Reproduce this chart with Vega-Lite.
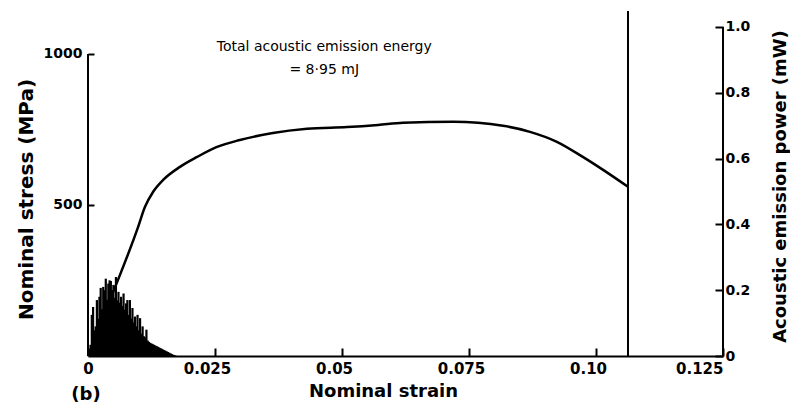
{
  "$schema": "https://vega.github.io/schema/vega-lite/v6.json",
  "width": 635,
  "height": 345,
  "autosize": "none",
  "padding": {"left": 88, "top": 11, "right": 67, "bottom": 56},
  "background": "white",
  "config": {
    "view": {"stroke": null},
    "font": "DejaVu Sans",
    "axis": {"grid": false, "labelColor": "black", "titleColor": "black", "tickColor": "black", "domainColor": "black", "tickWidth": 2, "domainWidth": 2, "labelFontWeight": "bold", "titleFontWeight": "bold", "titleFontSize": 19, "labelFont": "DejaVu Sans", "titleFont": "DejaVu Sans"}
  },
  "datasets": {
    "stress": [
      {"strain": 0, "stress": 0},
      {"strain": 0.0049, "stress": 209},
      {"strain": 0.0098, "stress": 424},
      {"strain": 0.0112, "stress": 493},
      {"strain": 0.0128, "stress": 543},
      {"strain": 0.0148, "stress": 583},
      {"strain": 0.0181, "stress": 626},
      {"strain": 0.0215, "stress": 659},
      {"strain": 0.0254, "stress": 692},
      {"strain": 0.0299, "stress": 715},
      {"strain": 0.0364, "stress": 738},
      {"strain": 0.0431, "stress": 752},
      {"strain": 0.051, "stress": 758},
      {"strain": 0.0571, "stress": 765},
      {"strain": 0.062, "stress": 772},
      {"strain": 0.0719, "stress": 775},
      {"strain": 0.0817, "stress": 762},
      {"strain": 0.087, "stress": 742},
      {"strain": 0.0923, "stress": 709},
      {"strain": 0.0974, "stress": 659},
      {"strain": 0.1014, "stress": 616},
      {"strain": 0.1063, "stress": 560}
    ],
    "ae": [
      {"strain": 0.00025, "power": 0.017},
      {"strain": 0.0005, "power": 0.034},
      {"strain": 0.00075, "power": 0.125},
      {"strain": 0.001, "power": 0.149},
      {"strain": 0.00125, "power": 0.078},
      {"strain": 0.0015, "power": 0.09},
      {"strain": 0.00175, "power": 0.17},
      {"strain": 0.002, "power": 0.113},
      {"strain": 0.00225, "power": 0.18},
      {"strain": 0.0025, "power": 0.207},
      {"strain": 0.00275, "power": 0.142},
      {"strain": 0.003, "power": 0.21},
      {"strain": 0.00325, "power": 0.2},
      {"strain": 0.0035, "power": 0.235},
      {"strain": 0.00375, "power": 0.171},
      {"strain": 0.004, "power": 0.22},
      {"strain": 0.00425, "power": 0.23},
      {"strain": 0.0045, "power": 0.228},
      {"strain": 0.00475, "power": 0.2},
      {"strain": 0.005, "power": 0.216},
      {"strain": 0.00525, "power": 0.177},
      {"strain": 0.0055, "power": 0.24},
      {"strain": 0.00575, "power": 0.169},
      {"strain": 0.006, "power": 0.195},
      {"strain": 0.00625, "power": 0.162},
      {"strain": 0.0065, "power": 0.18},
      {"strain": 0.00675, "power": 0.152},
      {"strain": 0.007, "power": 0.19},
      {"strain": 0.00725, "power": 0.141},
      {"strain": 0.0075, "power": 0.16},
      {"strain": 0.00775, "power": 0.17},
      {"strain": 0.008, "power": 0.125},
      {"strain": 0.00825, "power": 0.17},
      {"strain": 0.0085, "power": 0.114},
      {"strain": 0.00875, "power": 0.146},
      {"strain": 0.009, "power": 0.102},
      {"strain": 0.00925, "power": 0.12},
      {"strain": 0.0095, "power": 0.09},
      {"strain": 0.00975, "power": 0.125},
      {"strain": 0.01, "power": 0.078},
      {"strain": 0.01025, "power": 0.115},
      {"strain": 0.0105, "power": 0.068},
      {"strain": 0.01075, "power": 0.09},
      {"strain": 0.011, "power": 0.06},
      {"strain": 0.01125, "power": 0.056},
      {"strain": 0.0115, "power": 0.08},
      {"strain": 0.01175, "power": 0.047},
      {"strain": 0.012, "power": 0.043},
      {"strain": 0.01225, "power": 0.04},
      {"strain": 0.0125, "power": 0.038},
      {"strain": 0.01275, "power": 0.036},
      {"strain": 0.013, "power": 0.034},
      {"strain": 0.01325, "power": 0.032},
      {"strain": 0.0135, "power": 0.03},
      {"strain": 0.01375, "power": 0.028},
      {"strain": 0.014, "power": 0.026},
      {"strain": 0.01425, "power": 0.024},
      {"strain": 0.0145, "power": 0.022},
      {"strain": 0.01475, "power": 0.02},
      {"strain": 0.015, "power": 0.018},
      {"strain": 0.01525, "power": 0.016},
      {"strain": 0.0155, "power": 0.014},
      {"strain": 0.01575, "power": 0.012},
      {"strain": 0.016, "power": 0.01},
      {"strain": 0.01625, "power": 0.008},
      {"strain": 0.0165, "power": 0.006},
      {"strain": 0.01675, "power": 0.004},
      {"strain": 0.017, "power": 0.003},
      {"strain": 0.01725, "power": 0.001}
    ],
    "notes": [
      {"strain": 0.0465, "stress": 1023, "text": "Total acoustic emission energy"},
      {"strain": 0.0465, "stress": 947, "text": "= 8·95 mJ"}
    ],
    "panel": [
      {"strain": -0.0004, "stress": -129, "text": "(b)"}
    ],
    "fracture": [
      {"strain": 0.1063}
    ]
  },
  "layer": [
    {
      "layer": [
        {
          "data": {"name": "stress"},
          "mark": {"type": "line", "color": "black", "strokeWidth": 2.5, "interpolate": "monotone"},
          "encoding": {
            "x": {"field": "strain", "type": "quantitative", "scale": {"domain": [0, 0.125], "nice": false, "zero": false},
              "axis": {"title": "Nominal strain", "values": [0, 0.025, 0.05, 0.075, 0.1, 0.125],
                "labelExpr": "datum.value == 0 ? '0' : (datum.value == 0.1 ? '0.10' : format(datum.value, '.3~f'))",
                "tickSize": -8, "labelPadding": 13, "labelFontSize": 15,
                "labelOffset": {"condition": {"test": "datum.value == 0 || datum.value > 0.12", "value": 0}, "value": -8},
                "labelAlign": {"condition": {"test": "datum.value > 0.12", "value": "right"}, "value": "center"},
                "titleFontSize": 18, "titleX": 295, "titleY": 40, "titleBaseline": "alphabetic", "titleAlign": "center"}},
            "y": {"field": "stress", "type": "quantitative", "scale": {"domain": [0, 1142], "nice": false},
              "axis": {"orient": "left", "title": "Nominal stress (MPa)", "values": [500, 1000], "domain": false,
                "labelExpr": "format(datum.value, 'd')", "tickSize": -6, "labelPadding": 12, "labelFontSize": 14,
                "titleFontSize": 20, "titleAngle": -90, "titleX": -56, "titleY": 188, "titleBaseline": "alphabetic", "titleAlign": "center"}}
          }
        },
        {
          "data": {"values": [{}]},
          "mark": {"type": "rule", "color": "black", "strokeWidth": 2},
          "encoding": {
            "x": {"datum": 0, "type": "quantitative", "scale": {"domain": [0, 0.125], "nice": false, "zero": false}},
            "y": {"datum": 0, "type": "quantitative", "scale": {"domain": [0, 1142], "nice": false}},
            "y2": {"datum": 1000}
          }
        },
        {
          "data": {"name": "fracture"},
          "mark": {"type": "rule", "color": "black", "strokeWidth": 2},
          "encoding": {
            "x": {"field": "strain", "type": "quantitative", "scale": {"domain": [0, 0.125], "nice": false, "zero": false}}
          }
        },
        {
          "data": {"name": "notes"},
          "mark": {"type": "text", "color": "black", "fontSize": 14, "font": "DejaVu Sans", "align": "center", "baseline": "middle"},
          "encoding": {
            "x": {"field": "strain", "type": "quantitative", "scale": {"domain": [0, 0.125], "nice": false, "zero": false}},
            "y": {"field": "stress", "type": "quantitative", "scale": {"domain": [0, 1142], "nice": false}},
            "text": {"field": "text"}
          }
        },
        {
          "data": {"name": "panel"},
          "mark": {"type": "text", "color": "black", "fontSize": 18, "fontWeight": "bold", "font": "DejaVu Sans", "align": "center", "baseline": "middle"},
          "encoding": {
            "x": {"field": "strain", "type": "quantitative", "scale": {"domain": [0, 0.125], "nice": false, "zero": false}},
            "y": {"field": "stress", "type": "quantitative", "scale": {"domain": [0, 1142], "nice": false}},
            "text": {"field": "text"}
          }
        }
      ]
    },
    {
      "layer": [
        {
          "data": {"name": "ae"},
          "mark": {"type": "rule", "color": "black", "strokeWidth": 2.2},
          "encoding": {
            "x": {"field": "strain", "type": "quantitative", "scale": {"domain": [0, 0.125], "nice": false, "zero": false}},
            "y": {"field": "power", "type": "quantitative", "scale": {"domain": [0, 1.0486], "nice": false},
              "axis": {"orient": "right", "title": "Acoustic emission power (mW)", "values": [0, 0.2, 0.4, 0.6, 0.8, 1.0], "domain": false,
                "labelExpr": "datum.value == 0 ? '0' : format(datum.value, '.1f')", "tickSize": -8, "labelPadding": 10, "labelFontSize": 14,
                "titleFontSize": 18, "titleAngle": -90, "titleX": 62, "titleY": 175, "titleBaseline": "alphabetic", "titleAlign": "center"}},
            "y2": {"datum": 0}
          }
        },
        {
          "data": {"values": [{}]},
          "mark": {"type": "rule", "color": "black", "strokeWidth": 2},
          "encoding": {
            "x": {"datum": 0.125, "type": "quantitative", "scale": {"domain": [0, 0.125], "nice": false, "zero": false}},
            "y": {"datum": 0, "type": "quantitative", "scale": {"domain": [0, 1.0486], "nice": false}},
            "y2": {"datum": 1.0}
          }
        }
      ]
    }
  ],
  "resolve": {"scale": {"y": "independent"}, "axis": {"y": "independent"}}
}
